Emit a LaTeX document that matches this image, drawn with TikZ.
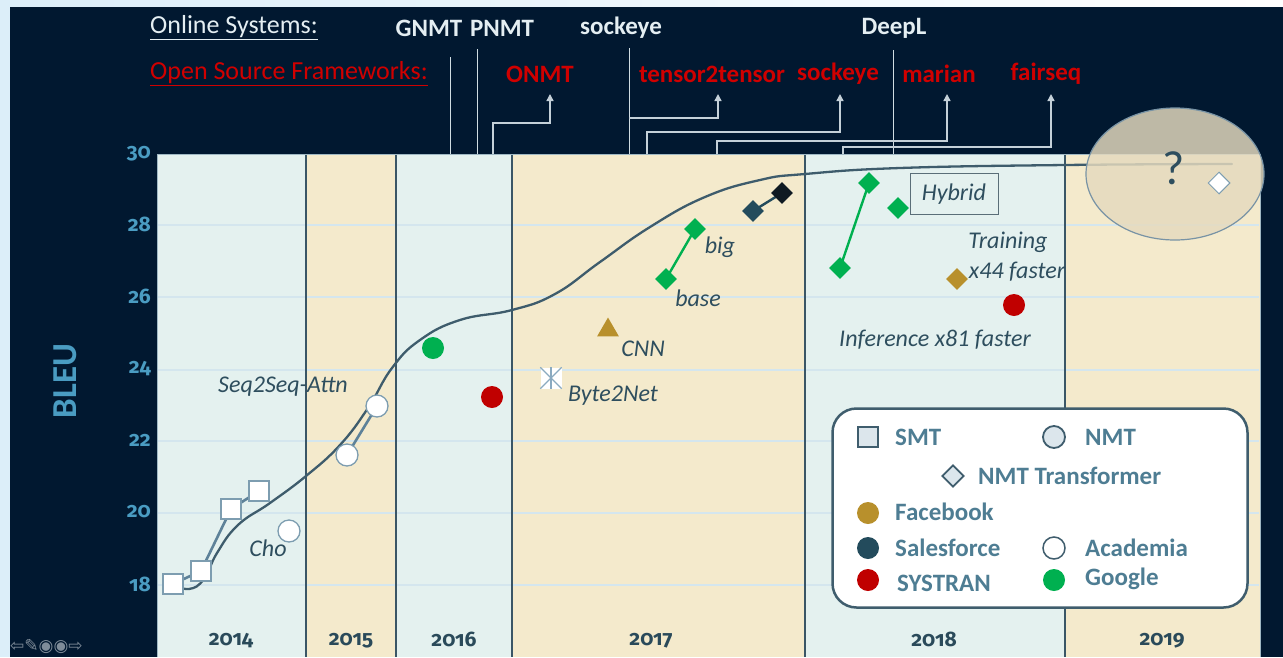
\documentclass[tikz,border=0pt]{standalone}
\usepackage{fontspec}
\setmainfont{Carlito}
\newfontfamily\numfont{Fira Sans}[Numbers=OldStyle]
\newfontfamily\symfont{DejaVu Sans}
\usetikzlibrary{arrows.meta,shapes.geometric}
\definecolor{navyc}{HTML}{011830}
\definecolor{bglc}{HTML}{DCEEF9}
\definecolor{tealc}{HTML}{E4F1EF}
\definecolor{beigec}{HTML}{F4EACC}
\definecolor{sepc}{HTML}{3A5666}
\definecolor{tickc}{HTML}{4A9CC2}
\definecolor{curvec}{HTML}{3E5C6C}
\definecolor{labc}{HTML}{2E4E5E}
\definecolor{gridc}{HTML}{D4E6EE}
\definecolor{mkb}{HTML}{7D9DB0}
\definecolor{pairc}{HTML}{5E8299}
\definecolor{googc}{HTML}{00B050}
\definecolor{sysc}{HTML}{C00000}
\definecolor{fbc}{HTML}{B8902C}
\definecolor{sfc}{HTML}{234B5C}
\definecolor{sfdc}{HTML}{0F1A22}
\definecolor{redt}{HTML}{D00000}
\definecolor{whitet}{HTML}{E4EEF2}
\definecolor{legtc}{HTML}{4E7D93}
\definecolor{legbc}{HTML}{3F5D6D}
\definecolor{lfillc}{HTML}{DCE6EC}
\definecolor{ovalc}{HTML}{E5DABE}
\definecolor{ovalbc}{HTML}{7893A5}
\definecolor{yearc}{HTML}{2A4A5A}
\definecolor{onlc}{HTML}{D0DCE2}
\definecolor{arrc}{HTML}{C4D0D8}
\definecolor{hybc}{HTML}{5A6E78}
\definecolor{navc}{HTML}{7F8C99}
\definecolor{astc}{HTML}{8AAAC0}
\definecolor{plotb}{HTML}{9FB8C4}
\tikzset{
 hdr/.style={font=\fontsize{26}{28}\selectfont, inner sep=0pt},
 hdrb/.style={font=\fontsize{25}{28}\selectfont\bfseries, inner sep=0pt},
 onl/.style={draw=onlc, line width=1pt},
 arr/.style={draw=arrc, line width=1.4pt, -{Triangle[width=7pt,length=7pt]}},
 lbl/.style={font=\fontsize{24}{28}\selectfont\itshape, text=labc, inner sep=0pt},
 ytk/.style={font=\numfont\fontsize{21}{24}\selectfont\bfseries, text=tickc, anchor=east, inner sep=0pt},
 yr/.style={font=\numfont\fontsize{21}{24}\selectfont\bfseries, text=yearc, inner sep=0pt},
 smt/.style={rectangle, draw=mkb, line width=1.3pt, fill=white, minimum size=20pt, inner sep=0pt},
 acad/.style={circle, draw=mkb, line width=1.3pt, fill=white, minimum size=22pt, inner sep=0pt},
 bdot/.style={circle, minimum size=22pt, inner sep=0pt},
 bdia/.style={diamond, minimum size=22pt, inner sep=0pt},
 pairl/.style={draw=pairc, line width=2.6pt},
 gpair/.style={draw=googc, line width=2.4pt},
 legt/.style={font=\fontsize{25}{28}\selectfont\bfseries, text=legtc, anchor=west, inner sep=0pt},
}
\begin{document}
\begin{tikzpicture}[x=1pt,y=-1pt]
\useasboundingbox (0,0) rectangle (1283,657);
% background
\fill[bglc] (0,0) rectangle (1283,657);
\shade[left color=bglc, right color=white] (0,0) rectangle (1283,7);
\fill[navyc] (10,7) rectangle (1283,657);
% columns
\fill[tealc] (157,154) rectangle (306,657);
\fill[beigec] (306,154) rectangle (396,657);
\fill[tealc] (396,154) rectangle (512,657);
\fill[beigec] (512,154) rectangle (805,657);
\fill[tealc] (805,154) rectangle (1065,657);
\fill[beigec] (1065,154) rectangle (1260,657);
\draw[plotb, line width=1pt] (157,657) -- (157,154) -- (1260,154) -- (1260,657);
% grid
\foreach \yy in {225,297,370,441,513,585} \draw[gridc, line width=1.2pt] (158,\yy) -- (1259,\yy);
% separators
\foreach \xx in {306,396,512,805,1065} \draw[sepc, line width=2pt] (\xx,155) -- (\xx,657);
% y axis
\node[ytk] (t30) at (151,154) {30};
\node[ytk] (t28) at (151,224) {28};
\node[ytk] (t26) at (151,296) {26};
\node[ytk] (t24) at (151,369) {24};
\node[ytk] (t22) at (151,440) {22};
\node[ytk] (t20) at (151,512) {20};
\node[ytk] (t18) at (151,584) {18};
\node[font=\fontsize{35}{38}\selectfont\bfseries, text=tickc, rotate=90, inner sep=0pt] (bleu) at (65,381) {BLEU};
% years
\node[yr] (y14) at (231,641) {2014};
\node[yr] (y15) at (351,641) {2015};
\node[yr] (y16) at (454,639) {2016};
\node[yr] (y17) at (651,641) {2017};
\node[yr] (y18) at (934,639) {2018};
\node[yr] (y19) at (1162,641) {2019};
% headers
\node[hdr, text=whitet, anchor=west] (online) at (150,28) {\underline{Online Systems:}};
\node[hdr, text=redt, anchor=west] (oss) at (150,74) {\underline{Open Source Frameworks:}};
\node[hdrb, text=whitet] (gnmt) at (429,28) {GNMT};
\node[hdrb, text=whitet] (pnmt) at (502,28) {PNMT};
\node[hdrb, text=whitet] (sockon) at (621,28) {sockeye};
\node[hdrb, text=whitet] (deepl) at (894,28) {DeepL};
\node[hdrb, text=redt] (onmt) at (540,74) {ONMT};
\node[hdrb, text=redt] (t2t) at (712,74) {tensor2tensor};
\node[hdrb, text=redt] (sockos) at (838,74) {sockeye};
\node[hdrb, text=redt] (marian) at (939,74) {marian};
\node[hdrb, text=redt] (fairseq) at (1046,74) {fairseq};
% header connectors
\coordinate (bG) at (450,154); \coordinate (eG) at (450,57);
\coordinate (bP) at (477,154); \coordinate (eP) at (477,49);
\coordinate (bS) at (629,154); \coordinate (eS) at (629,48);
\coordinate (bD) at (893,154); \coordinate (eD) at (893,50);
\draw[onl] (bG) -- (eG);
\draw[onl] (bP) -- (eP);
\draw[onl] (bS) -- (eS);
\draw[onl] (bD) -- (eD);
\coordinate (bO) at (493,154); \coordinate (aO) at (550,94);
\coordinate (bT) at (629,118); \coordinate (aT) at (718,94);
\coordinate (bK) at (647,154); \coordinate (aK) at (840,94);
\coordinate (bM) at (717,154); \coordinate (aM) at (947,94);
\coordinate (bF) at (843,154); \coordinate (aF) at (1051,94);
\draw[arr] (bO) |- (550,123) -- (aO);
\draw[arr] (bT) -| (aT);
\draw[arr] (bK) |- (840,132) -- (aK);
\draw[arr] (bM) |- (947,141) -- (aM);
\draw[arr] (bF) |- (1051,147) -- (aF);
% curve
\draw[curvec, line width=2.3pt, line cap=round] plot[smooth, tension=0.75] coordinates {(173,584) (189,589) (204,579) (217,553) (238,525) (270,503) (306,476) (340,445) (368,408) (392,368) (420,340) (460,320) (512,310) (555,294) (600,262) (650,227) (705,197) (760,180) (805,174) (900,168) (1065,165) (1232,164)};
% SMT squares
\draw[pairl] (173,584) -- (201,571) -- (231,509) -- (259,491);
\node[smt] (s1) at (173,584) {};
\node[smt] (s2) at (201,571) {};
\node[smt] (s3) at (231,509) {};
\node[smt] (s4) at (259,491) {};
% academia
\draw[pairl] (347,455) -- (377,406);
\node[acad] (cho) at (289,531) {};
\node[lbl] (cholab) at (268,548) {Cho};
\node[acad] (sa1) at (347,455) {};
\node[acad] (sa2) at (377,406) {};
\node[lbl] (salab) at (283,387) {Seq2Seq-Attn};
% 2016
\node[bdot, fill=googc] (g16) at (433,348) {};
\node[bdot, fill=sysc] (sys16) at (492,397) {};
% 2017
\node[rectangle, fill=white, minimum size=21pt, inner sep=0pt] (b2n) at (551,378) {};
\draw[astc, line width=1.2pt] (b2n.north) -- (b2n.south);
\draw[astc, line width=1.2pt] (b2n.north west) -- (b2n.south east);
\draw[astc, line width=1.2pt] (b2n.north east) -- (b2n.south west);
\node[lbl] (b2nlab) at (613,396) {Byte2Net};
\node[regular polygon, regular polygon sides=3, fill=fbc, minimum size=25pt, inner sep=0pt] (cnn) at (608,330) {};
\node[lbl] (cnnlab) at (643,349) {CNN};
\draw[gpair] (666,279) -- (695,229);
\node[bdia, fill=googc] (base) at (666,279) {};
\node[bdia, fill=googc] (big) at (695,229) {};
\node[lbl] (baselab) at (698,298) {base};
\node[lbl] (biglab) at (720,247) {big};
\draw[sfc, line width=2.4pt] (753,211) -- (782,193);
\node[bdia, fill=sfc] (sf1) at (753,211) {};
\node[bdia, fill=sfdc] (sf2) at (782,193) {};
% 2018
\draw[gpair] (840,268) -- (869,183);
\node[bdia, fill=googc] (g18a) at (840,268) {};
\node[bdia, fill=googc] (g18b) at (869,183) {};
\node[bdia, fill=googc] (g18c) at (898,208) {};
\node[draw=hybc, line width=1pt, fill=tealc, minimum width=88pt, minimum height=41pt, inner sep=0pt, font=\fontsize{24}{28}\selectfont\itshape, text=labc] (hyb) at (954,194) {Hybrid};
\node[lbl] (trlab1) at (1008,242) {Training};
\node[lbl] (trlab2) at (1017,272) {x44 faster};
\node[bdia, fill=fbc] (fb18) at (957,279) {};
\node[bdot, fill=sysc] (sys18) at (1014,305) {};
\node[lbl] (inflab) at (935,340) {Inference x81 faster};
% legend
\node[draw=legbc, line width=2.5pt, fill=white, rounded corners=24pt, minimum width=415pt, minimum height=199pt, inner sep=0pt] (legend) at (1040,508) {};
\node[rectangle, draw=legbc, line width=1.8pt, fill=lfillc, minimum size=20pt, inner sep=0pt] (lsmt) at (868,437) {};
\node[legt] (lsmtt) at (895,437) {SMT};
\node[circle, draw=legbc, line width=1.8pt, fill=lfillc, minimum size=22pt, inner sep=0pt] (lnmt) at (1054,437) {};
\node[legt] (lnmtt) at (1085,437) {NMT};
\node[diamond, draw=legbc, line width=1.8pt, fill=lfillc, minimum size=22pt, inner sep=0pt] (ltr) at (953,476) {};
\node[legt] (ltrt) at (978,476) {NMT Transformer};
\node[bdot, fill=fbc] (lfb) at (868,513) {};
\node[legt] (lfbt) at (895,512) {Facebook};
\node[bdot, fill=sfc] (lsf) at (868,548) {};
\node[legt] (lsft) at (895,548) {Salesforce};
\node[circle, draw=legbc, line width=1.5pt, fill=white, minimum size=22pt, inner sep=0pt] (lac) at (1054,548) {};
\node[legt] (lact) at (1085,548) {Academia};
\node[bdot, fill=sysc] (lsys) at (868,580) {};
\node[legt] (lsyst) at (897,583) {SYSTRAN};
\node[bdot, fill=googc] (lgo) at (1054,580) {};
\node[legt] (lgot) at (1085,579) {Google};
% oval
\node[ellipse, draw=ovalbc, line width=1.2pt, fill=ovalc, fill opacity=0.83, minimum width=178pt, minimum height=132pt, inner sep=0pt] (oval) at (1175,174) {};
\node[font=\fontsize{48}{50}\selectfont, text=labc, inner sep=0pt] (qm) at (1174,168) {?};
\node[diamond, draw=mkb, line width=1pt, fill=white, minimum size=22pt, inner sep=0pt] (fut) at (1219,183) {};
% nav icons
\node[font=\symfont\fontsize{17}{18}\selectfont, text=navc, anchor=west, inner sep=0pt] (nav) at (10,647) {⇦✎◉◉⇨};
\end{tikzpicture}
\end{document}
